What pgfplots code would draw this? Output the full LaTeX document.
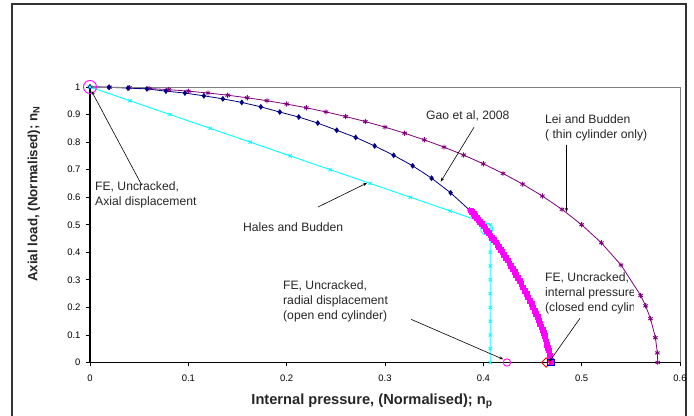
\documentclass[border=0pt]{standalone}
\usepackage{pgfplots}
\pgfplotsset{compat=1.18}
\usepackage{fontspec}
\setmainfont{Liberation Sans}
\usetikzlibrary{arrows.meta}

\definecolor{lei}{RGB}{128,0,128}
\definecolor{gao}{RGB}{0,0,128}
\definecolor{hales}{RGB}{0,255,255}
\definecolor{fe}{RGB}{255,0,255}
\definecolor{framegray}{RGB}{51,51,51}

\begin{document}
\begin{tikzpicture}
\path[use as bounding box] (0bp,0bp) rectangle (694bp,416bp);
\draw[framegray, line width=1.6bp] (12bp,-10bp) -- (12bp,412bp) -- (686bp,412bp) -- (686bp,-10bp);

\begin{axis}[
    at={(90bp,53.5bp)}, anchor=south west,
    scale only axis, width=590bp, height=275.5bp,
    xmin=0, xmax=0.6, ymin=0, ymax=1,
    axis lines*=left,
    axis line style={black, line width=1.2bp},
    tick align=outside, major tick length=4bp,
    tick style={black, line width=0.8bp},
    xtick={0,0.1,0.2,0.3,0.4,0.5,0.6},
    ytick={0,0.1,0.2,0.3,0.4,0.5,0.6,0.7,0.8,0.9,1},
    /pgf/number format/assume math mode=true,
    ticklabel style={font=\fontsize{9.5}{11}\selectfont},
    xticklabel style={yshift=-5bp},
    yticklabel style={xshift=-2bp},
    clip=false,
]
% Lei and Budden (thin cylinder only)
\addplot[lei, line width=0.8bp, mark=asterisk, mark size=2.6bp, mark options={line width=0.9bp}] coordinates {
(0,1) (0.02,0.9994) (0.04,0.9976) (0.06,0.9946) (0.08,0.9904) (0.10,0.9849)
(0.12,0.9782) (0.14,0.9702) (0.16,0.9608) (0.18,0.9502) (0.20,0.9381)
(0.22,0.9246) (0.24,0.9095) (0.26,0.8929) (0.28,0.8745) (0.30,0.8544)
(0.32,0.8323) (0.34,0.8082) (0.36,0.7818) (0.38,0.7529) (0.40,0.7211)
(0.42,0.6862) (0.44,0.6475) (0.46,0.6043) (0.48,0.5557) (0.50,0.5)
(0.52,0.4345) (0.54,0.3538) (0.56,0.2433) (0.565,0.2057) (0.57,0.1591)
(0.575,0.0901) (0.577,0.0348) (0.5774,0)
};
% Gao et al, 2008
\addplot[gao, line width=0.8bp, mark=diamond*, mark size=2.3bp] coordinates {
(0,1) (0.0193,0.999) (0.0386,0.996) (0.0579,0.993) (0.0772,0.985)
(0.0965,0.978) (0.1158,0.968) (0.1351,0.957) (0.1544,0.944) (0.1737,0.928)
(0.1930,0.909) (0.2123,0.891) (0.2316,0.869) (0.2509,0.843) (0.2702,0.817)
(0.2895,0.786) (0.3088,0.752) (0.3281,0.714) (0.3474,0.669) (0.3667,0.616)
(0.3860,0.553)
};
% Hales and Budden
\addplot[hales, line width=0.9bp, mark=x, mark size=2.2bp] coordinates {
(0,1) (0.0407,0.95) (0.0814,0.90) (0.1221,0.85) (0.1628,0.80) (0.2035,0.75)
(0.2442,0.70) (0.2849,0.65) (0.3256,0.60) (0.3663,0.55) (0.407,0.50)
(0.407,0.45) (0.407,0.40) (0.407,0.35) (0.407,0.30) (0.407,0.25)
(0.407,0.20) (0.407,0.15) (0.407,0.10) (0.407,0.05) (0.407,0)
};
\addplot[hales, only marks, mark=o, mark size=6bp, line width=0.8bp] coordinates {(0.4034,0.4846)};
% FE cracked
\addplot[fe, only marks, mark=square*, mark size=2.4bp] coordinates {
(0.387,0.553) (0.3884,0.5465) (0.3898,0.540) (0.3914,0.5325) (0.393,0.525)
(0.3948,0.5175) (0.3965,0.510) (0.3982,0.5025) (0.400,0.495) (0.4018,0.487)
(0.4035,0.479) (0.4052,0.4705) (0.407,0.462) (0.4088,0.4535) (0.4105,0.445)
(0.4122,0.4365) (0.414,0.428) (0.4158,0.419) (0.4175,0.410) (0.4192,0.401)
(0.421,0.392) (0.4228,0.3815) (0.4245,0.371) (0.4262,0.3605) (0.428,0.350)
(0.4298,0.3395) (0.4315,0.329) (0.4332,0.318) (0.435,0.307) (0.4368,0.296)
(0.4385,0.285) (0.4402,0.2735) (0.442,0.262) (0.4438,0.2495) (0.4455,0.237)
(0.4472,0.2245) (0.449,0.212) (0.4505,0.2005) (0.452,0.189) (0.4535,0.177)
(0.455,0.165) (0.4562,0.1535) (0.4575,0.142) (0.4588,0.130) (0.460,0.118)
(0.461,0.1075) (0.462,0.097) (0.463,0.086) (0.464,0.075) (0.4648,0.065)
(0.4655,0.055) (0.4662,0.045) (0.467,0.035) (0.4675,0.026) (0.468,0.017)
(0.4685,0.0085) (0.469,0.0)
};
% FE uncracked points
\addplot[fe, only marks, mark=o, mark size=6.5bp, line width=0.9bp] coordinates {(0,1)};
\addplot[fe, only marks, mark=o, mark size=3.7bp, line width=0.9bp] coordinates {(0.424,0)};
\addplot[red, only marks, mark=square, mark size=3.3bp, mark options={rotate=45}, line width=0.9bp] coordinates {(0.4639,0)};
\addplot[blue, only marks, mark=square, mark size=3.3bp, line width=0.9bp] coordinates {(0.4687,0)};

\draw[gray, line width=0.8bp] (rel axis cs:0,1) -- (rel axis cs:1,1) -- (rel axis cs:1,0);
\end{axis}

\begin{scope}[x=1bp, y=1bp, font=\fontsize{12.2}{15.2}\selectfont, every node/.style={inner sep=0pt, align=left, anchor=north west, text=black!85}]
\node at (95,235) {FE, Uncracked,\\Axial displacement};
\node at (243,194) {Hales and Budden};
\node at (426,306) {Gao et al, 2008};
\node at (545,302) {Lei and Budden\\( thin cylinder only)};
\node at (283,136) {FE, Uncracked,\\radial displacement\\(open end cylinder)};
\begin{scope}
\clip (540,60) rectangle (633,160);
\node at (545,144) {FE, Uncracked,\\internal pressure\\(closed end cylinder)};
\end{scope}
\begin{scope}[black, line width=0.6bp, -{Stealth[length=4bp, width=3bp]}]
\draw (141.7,231) -- (91.5,325);
\draw (318,209) -- (367,233);
\draw (474,288.7) -- (440.7,234.3);
\draw (566.5,271) -- (566.5,204);
\draw (580,97.7) -- (549.3,54.3);
\draw (411,96.7) -- (503.3,56.7);
\end{scope}
\node[rotate=90, anchor=center, font=\bfseries\fontsize{13.4}{16}\selectfont] at (34,222) {Axial load, (Normalised); n\textsubscript{N}};
\node[anchor=center, font=\bfseries\fontsize{14.7}{17}\selectfont] at (372,15) {Internal pressure, (Normalised); n\textsubscript{p}};
\end{scope}
\end{tikzpicture}
\end{document}
